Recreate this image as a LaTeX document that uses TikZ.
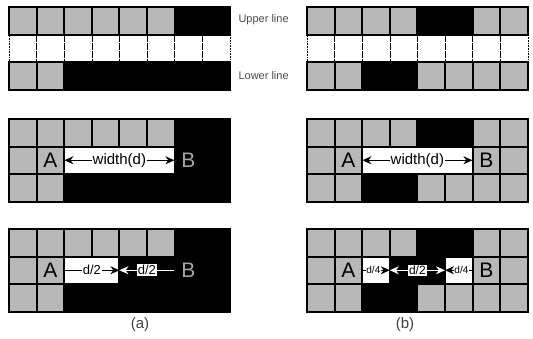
\documentclass[tikz,border=0pt]{standalone}
\usepackage{fontspec}
\setmainfont{Liberation Sans}
\usetikzlibrary{arrows.meta}

\pgfdeclarelayer{cells}
\pgfsetlayers{cells,main}

\newcommand{\cellrow}[3]{%
  \foreach \cell [count=\i from 0] in {#3} {
    \begin{pgfonlayer}{cells}
      \fill[\cell] ({#1+\i*27.6},#2) rectangle ++(27.6,27.5);
    \end{pgfonlayer}
    \draw[\cell/edge] ({#1+\i*27.6},#2) rectangle ++(27.6,27.5);
  }}

\begin{document}
\begin{tikzpicture}[x=1pt, y=-1pt,
  gc/.style={fill=black!28}, gc/edge/.style={draw=black, line width=2pt},
  kc/.style={fill=black}, kc/edge/.style={draw=black, line width=2pt},
  wc/.style={fill=white}, wc/edge/.style={draw=none},
  dc/.style={fill=white}, dc/edge/.style={draw=black, densely dotted, line width=0.6pt},
  tag/.style={font=\fontsize{21}{21}\selectfont, minimum width=27.6pt, minimum height=27.5pt, inner sep=0pt},
  dim/.style={fill=white, text=black, inner sep=1pt, font=\fontsize{15}{15}\selectfont},
  side/.style={font=\fontsize{11}{12}\selectfont, text=black!70, anchor=west},
  subcap/.style={font=\fontsize{15}{15}\selectfont, text=black!75},
  >={Stealth[length=9pt,width=8pt]}]
\useasboundingbox (0,0) rectangle (533,338);

\cellrow{9}{7}{gc,gc,gc,gc,gc,gc,kc,kc}
\cellrow{9}{34.5}{dc,dc,dc,dc,dc,dc,dc,dc}
\cellrow{9}{62}{gc,gc,kc,kc,kc,kc,kc,kc}
\cellrow{307}{7}{gc,gc,gc,gc,kc,kc,gc,gc}
\cellrow{307}{34.5}{dc,dc,dc,dc,dc,dc,dc,dc}
\cellrow{307}{62}{gc,gc,kc,kc,gc,gc,gc,gc}
\node[side] (upper) at (235,20) {Upper line};
\node[side] (lower) at (235,76) {Lower line};

\cellrow{9}{119}{gc,gc,gc,gc,gc,gc,kc,kc}
\cellrow{9}{146.5}{gc,gc,wc,wc,wc,wc,kc,kc}
\cellrow{9}{174}{gc,gc,kc,kc,kc,kc,kc,kc}
\node[tag] (A1) at (50.4,160.25) {A};
\node[tag, text=black!35] (B1) at (188.4,160.25) {B};
\draw[<->, line width=1.4pt] (A1) -- node[dim] {width(d)} (B1);

\cellrow{307}{119}{gc,gc,gc,gc,kc,kc,gc,gc}
\cellrow{307}{146.5}{gc,gc,wc,wc,wc,wc,gc,gc}
\cellrow{307}{174}{gc,gc,kc,kc,gc,gc,gc,gc}
\node[tag] (A2) at (348.4,160.25) {A};
\node[tag] (B2) at (486.4,160.25) {B};
\draw[<->, line width=1.4pt] (A2) -- node[dim] {width(d)} (B2);

\cellrow{9}{229}{gc,gc,gc,gc,gc,gc,kc,kc}
\cellrow{9}{256.5}{gc,gc,wc,wc,kc,kc,kc,kc}
\cellrow{9}{284}{gc,gc,kc,kc,kc,kc,kc,kc}
\node[tag] (A3) at (50.4,270.25) {A};
\node[tag, text=black!35] (B3) at (188.4,270.25) {B};
\coordinate (M3) at (119.4,270.25);
\draw[->, line width=1.4pt] (A3) -- node[dim, font=\fontsize{13}{13}\selectfont] {d/2} (M3);
\draw[->, white, line width=1.4pt] (B3) -- node[dim, font=\fontsize{13}{13}\selectfont] {d/2} (M3);

\cellrow{307}{229}{gc,gc,gc,gc,kc,kc,gc,gc}
\cellrow{307}{256.5}{gc,gc,wc,kc,kc,wc,gc,gc}
\cellrow{307}{284}{gc,gc,kc,kc,gc,gc,gc,gc}
\node[tag] (A4) at (348.4,270.25) {A};
\node[tag] (B4) at (486.4,270.25) {B};
\coordinate (P4) at (389.8,270.25);
\coordinate (Q4) at (445,270.25);
\draw[->, line width=1.4pt] (A4) -- node[dim, pos=0.4, inner sep=0.5pt, font=\fontsize{10}{10}\selectfont] {d/4} (P4);
\draw[<->, white, line width=1.4pt] (P4) -- node[dim, font=\fontsize{12}{12}\selectfont] {d/2} (Q4);
\draw[->, line width=1.4pt] (B4) -- node[dim, pos=0.4, inner sep=0.5pt, font=\fontsize{10}{10}\selectfont] {d/4} (Q4);

\node[subcap] (capa) at (140,325) {(a)};
\node[subcap] (capb) at (405,325) {(b)};
\end{tikzpicture}
\end{document}
